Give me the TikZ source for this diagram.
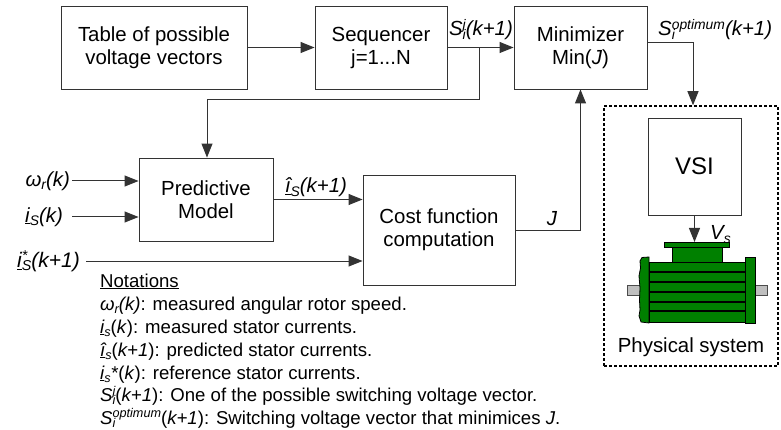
\documentclass[tikz,border=0pt]{standalone}
\usepackage{fontspec}
\setmainfont{Liberation Sans}
\usetikzlibrary{arrows.meta,calc}

% stacked superscript/subscript in the current text font
\makeatletter
\newcommand\supsub[2]{{%
  \dimen@=\f@size pt\relax
  \dimen2=0.34\dimen@
  \dimen4=0.17\dimen@
  \dimen6=0.68\dimen@
  \fontsize{\strip@pt\dimen6}{\strip@pt\dimen6}\selectfont
  \setbox0\hbox{\raise\dimen2\hbox{#1}}%
  \setbox2\hbox{\lower\dimen4\hbox{#2}}%
  \ifdim\wd0>\wd2 \rlap{\box2}\box0 \else \rlap{\box0}\box2\fi}}
\makeatother
\newcommand\sbs[1]{\supsub{}{#1}}

\begin{document}
\begin{tikzpicture}[x=1pt,y=-1pt,
  box/.style={draw=black!80, line width=0.9pt, inner sep=0pt, align=center,
    font=\fontsize{20.4}{23}\selectfont},
  link/.style={draw=black!80, line width=1pt, -{Triangle[length=14pt,width=11pt]}},
  lbl/.style={font=\fontsize{20.4}{23}\selectfont, inner sep=0pt},
  note/.style={font=\fontsize{18.6}{23}\selectfont, anchor=base west, inner sep=0pt},
  part/.style={draw=black, line width=0.8pt, fill=green!50!black},
  shaft/.style={draw=black!70, line width=0.6pt, fill=black!25}]

\useasboundingbox (0,0) rectangle (781,430);

% blocks
\node[box, minimum width=186pt, minimum height=83pt] (tab) at (154,47.5) {Table of possible\\voltage vectors};
\node[box, minimum width=132pt, minimum height=83pt] (seq) at (381,47.5) {Sequencer\\j=1...N};
\node[box, minimum width=133pt, minimum height=83pt] (mini) at (580.5,47.5) {Minimizer\\Min(\textit{J})};
\node[box, minimum width=134pt, minimum height=83pt] (pred) at (206,199.5) {Predictive\\Model};
\node[box, minimum width=152pt, minimum height=110pt] (cost) at (439,230) {Cost function\\computation};
\node[box, minimum width=93pt, minimum height=97pt, font=\fontsize{24}{28}\selectfont] (vsi) at (694.5,166.5) {VSI};

% physical system frame
\node[draw=black, line width=1.5pt, dash pattern=on 3pt off 2pt, minimum width=174pt, minimum height=260pt, inner sep=0pt] (phys) at (691,236) {};
\node[lbl] (physlbl) at (691,347) {Physical system};

% motor
\coordinate (plate) at (694.5,242);
\draw[shaft] (627,285) rectangle (767,295);
\draw[part] (649,257) -- (642,257.5) -- (640,261) -- (640.5,268) -- (639,276) -- (640,288) -- (639.5,300) -- (640,310) -- (639,316) -- (641,322) -- (649,323) -- cycle;
\draw[part] (649,262) rectangle (745,322);
\foreach \yy in {272,282,292,302,311}
  \draw[line width=1.2pt] (649,\yy) -- (745,\yy);
\draw[part] (745,257) rectangle (755,323);
\draw[part] (672,247) rectangle (722,262);
\draw[part] (664,242) rectangle (729,247);

% main signal path
\draw[link] (tab) -- (seq);
\draw[link] (seq) -- (mini);
\coordinate (br) at (479,47.5);
\coordinate (fb) at (207,100);
\draw[link] (br) |- (fb) -- (fb |- pred.north);

\coordinate (mo) at (647,43);
\coordinate (mc) at (693,43);
\draw[link] (mo) -- (mc) -- (mc |- phys.north);

\coordinate (win) at (72,181);
\coordinate (iin) at (72,217);
\coordinate (rin) at (86,261);
\draw[link] (win) -- (win -| pred.west);
\draw[link] (iin) -- (iin -| pred.west);
\draw[link] (pred.east) -- (pred.east -| cost.west);
\draw[link] (rin) -- (rin -| cost.west);

\coordinate (jo) at (580.5,231);
\draw[link] (cost.east |- jo) -- (jo) -- (jo |- mini.south);

\draw[link] (vsi.south) -- (plate);

% signal labels
\node[lbl, anchor=base] (lsj) at (481,36) {\textit{S\supsub{j}{i}(k+1)}};
\node[lbl, anchor=base west] (lsopt) at (658,36) {\textit{S\supsub{optimum}{i}(k+1)}};
\node[lbl, anchor=base] (lj) at (552,226) {\textit{J}};
\node[lbl] (lhat) at (316,187.5) {\textit{\underline{î}\sbs{S}(k+1)}};
\node[lbl, anchor=east] (lw) at (70,181) {\textit{ω\sbs{r}(k)}};
\node[lbl, anchor=east] (li) at (63,217) {\textit{\underline{i}\sbs{S}(k)}};
\node[lbl, anchor=east, font=\fontsize{21}{24}\selectfont] (lref) at (80,261) {\textit{\underline{i}\supsub{*}{S}(k+1)}};
\node[lbl, anchor=base west] (lv) at (710,240) {\textit{V\sbs{s}}};

% notations
\node[note] (nt) at (100,287) {\underline{Notations}};
\node[note] (n1) at (100,310) {\textit{ω\sbs{r}(k)}: measured angular rotor speed.};
\node[note] (n2) at (100,333) {\textit{\underline{i}\sbs{s}}(\textit{k}): measured stator currents.};
\node[note] (n3) at (100,356) {\textit{\underline{î}\sbs{s}}(\textit{k+1}): predicted stator currents.};
\node[note] (n4) at (100,379) {\textit{\underline{i}\sbs{s}*}(\textit{k}): reference stator currents.};
\node[note] (n5) at (100,401.5) {\textit{S\supsub{j}{i}}(\textit{k+1}): One of the possible switching voltage vector.};
\node[note] (n6) at (100,424) {\textit{S\supsub{optimum}{i}}(\textit{k+1}): Switching voltage vector that minimices \textit{J}.};
\end{tikzpicture}
\end{document}
